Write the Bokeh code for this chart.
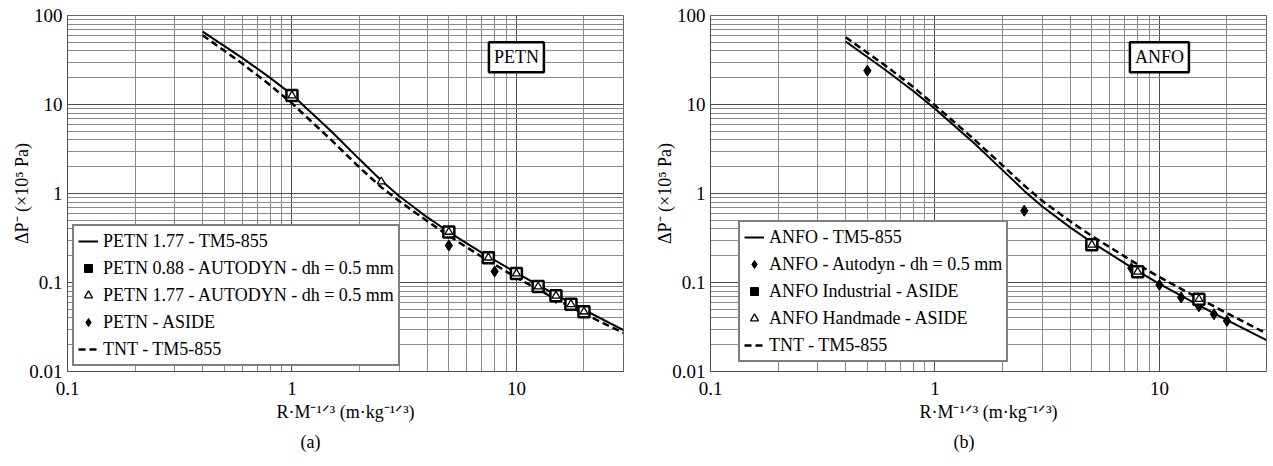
from bokeh.plotting import figure
from bokeh.models import (FixedTicker, CustomJSTickFormatter, Legend,
                          LegendItem, Label, Title, Range1d)
from bokeh.layouts import row
from bokeh.embed import file_html
from bokeh.resources import INLINE

FONT = "Liberation Serif"

# ---------------- data : panel (a) PETN ----------------
petn_tm5_x = [0.4, 0.6, 0.8, 1, 1.5, 2, 2.5, 3, 4, 5, 7, 10, 15, 20, 30]
petn_tm5_y = [66, 33.4, 19.9, 12.9, 4.97, 2.42, 1.40, 0.938, 0.542, 0.369, 0.217, 0.128, 0.0728, 0.0494, 0.0292]
tnt_a_x = [0.4, 0.6, 0.8, 1, 1.5, 2, 2.5, 3, 4, 5, 7, 10, 15, 20, 30]
tnt_a_y = [60, 28.9, 16.5, 10.3, 3.97, 1.96, 1.175, 0.824, 0.491, 0.334, 0.195, 0.1135, 0.0649, 0.0446, 0.0272]
petn088_x = [1, 5, 7.5, 10, 12.5, 15, 17.5, 20]
petn088_y = [12.6, 0.37, 0.19, 0.126, 0.090, 0.071, 0.057, 0.047]
petn177_x = [1, 2.5, 5, 7.5, 10, 12.5, 15, 17.5, 20]
petn177_y = [12.6, 1.36, 0.37, 0.19, 0.126, 0.090, 0.071, 0.057, 0.047]
petn_aside_x = [5, 8, 15]
petn_aside_y = [0.26, 0.133, 0.067]

# ---------------- data : panel (b) ANFO ----------------
anfo_tm5_x = [0.4, 0.6, 0.8, 1, 1.5, 2, 2.5, 3, 4, 5, 7.5, 10, 15, 20, 30]
anfo_tm5_y = [51, 24.6, 14.2, 8.95, 3.64, 1.83, 1.07, 0.718, 0.416, 0.283, 0.148, 0.0966, 0.0552, 0.0378, 0.0225]
tnt_b_x = [0.4, 0.6, 0.8, 1, 1.5, 2, 2.5, 3, 4, 5, 7.5, 10, 15, 20, 30]
tnt_b_y = [57, 27.5, 15.7, 9.8, 4.02, 2.07, 1.23, 0.83, 0.488, 0.333, 0.176, 0.115, 0.066, 0.0452, 0.0267]
anfo_autodyn_x = [0.5, 2.5, 7.5, 10, 12.5, 15, 17.5, 20]
anfo_autodyn_y = [24, 0.64, 0.145, 0.094, 0.068, 0.054, 0.044, 0.037]
anfo_ind_x = [5, 8, 15]
anfo_ind_y = [0.265, 0.132, 0.065]
anfo_hand_x = [5, 8, 15]
anfo_hand_y = [0.265, 0.132, 0.065]

major_x = [0.1, 1, 10]
minor_x = [m * 10.0 ** e for e in (-1, 0, 1) for m in range(2, 10) if m * 10.0 ** e <= 30]
major_y = [0.01, 0.1, 1, 10, 100]
minor_y = [m * 10.0 ** e for e in (-2, -1, 0, 1) for m in range(2, 10)]

y_title = "ΔP⁻ (×10⁵ Pa)"
x_title = "R·M⁻¹ᐟ³ (m·kg⁻¹ᐟ³)"


def make_fig(border_left, border_right, caption, cap_offset):
    p = figure(x_axis_type="log", y_axis_type="log",
               x_range=Range1d(0.1, 30), y_range=Range1d(0.01, 100),
               frame_width=556, frame_height=356,
               min_border_left=border_left, min_border_right=border_right,
               min_border_top=15, min_border_bottom=85,
               output_backend="svg", toolbar_location=None)
    p.background_fill_color = "white"
    p.border_fill_color = "white"
    p.outline_line_color = "#666666"
    for g, maj, mnr in ((p.xgrid[0], major_x, minor_x), (p.ygrid[0], major_y, minor_y)):
        g.ticker = FixedTicker(ticks=maj, minor_ticks=mnr)
        g.grid_line_color = "#4d4d4d"
        g.grid_line_width = 1
        g.minor_grid_line_color = "#8a8a8a"
        g.minor_grid_line_width = 1
    p.xaxis[0].ticker = FixedTicker(ticks=major_x)
    p.yaxis[0].ticker = FixedTicker(ticks=major_y)
    for ax in (p.xaxis[0], p.yaxis[0]):
        ax.major_tick_in = 0
        ax.major_tick_out = 0
        ax.minor_tick_in = 0
        ax.minor_tick_out = 0
        ax.axis_line_color = "#4d4d4d"
        ax.formatter = CustomJSTickFormatter(code="return tick.toString();")
        ax.major_label_text_font = FONT
        ax.major_label_text_font_size = "19px"
        ax.major_label_text_color = "black"
        ax.axis_label_text_font = FONT
        ax.axis_label_text_font_size = "18px"
        ax.axis_label_text_font_style = "normal"
        ax.axis_label_text_color = "black"
    p.xaxis[0].axis_label = x_title
    p.yaxis[0].axis_label = y_title
    p.xaxis[0].major_label_standoff = 10
    p.xaxis[0].axis_label_standoff = 4
    p.yaxis[0].major_label_standoff = 5
    p.yaxis[0].axis_label_standoff = -6
    p.add_layout(Title(text=caption, align="left", offset=cap_offset, text_font=FONT,
                       text_font_size="18px", text_font_style="normal",
                       text_color="black", standoff=10), "below")
    return p


def add_legend(p, entries, loc):
    items = [LegendItem(label=lab, renderers=[r]) for lab, r in entries]
    lg = Legend(items=items, location=loc, border_line_color="black", border_line_width=2.5,
                background_fill_color="white", background_fill_alpha=1.0,
                label_text_font=FONT, label_text_font_size="18px", label_text_color="black",
                glyph_width=20, glyph_height=22, label_height=22, spacing=5, padding=4,
                label_standoff=5, margin=0)
    p.add_layout(lg)


solid_kw = dict(line_color="black", line_width=2)
dash_kw = dict(line_color="black", line_width=2.5, line_dash="7 4")

# ---------------- panel (a) ----------------
pa = make_fig(67, 7, "(a)", 233)
r_petn = pa.line(petn_tm5_x, petn_tm5_y, **solid_kw)
r_tnt_a = pa.line(tnt_a_x, tnt_a_y, **dash_kw)
r_aside = pa.scatter(petn_aside_x, petn_aside_y, marker="diamond", size=11,
                     fill_color="black", line_color="black")
# solid square (legend symbol) hidden under the open square drawn on top
r_088_leg = pa.scatter(petn088_x, petn088_y, marker="square", size=7,
                       fill_color="black", line_color="black")
pa.scatter(petn088_x, petn088_y, marker="square", size=11, fill_color="white",
           line_color="black", line_width=2.5)
r_177 = pa.scatter(petn177_x, petn177_y, marker="triangle", size=8, fill_color="white",
                   line_color="black", line_width=1.3)
pa.add_layout(Label(x=10, y=34, text="PETN", text_align="center", text_baseline="middle",
                    text_font=FONT, text_font_size="18px", text_color="black",
                    border_line_color="black", border_line_width=2.5,
                    background_fill_color="white", padding=5))
add_legend(pa, [
    ("PETN 1.77 - TM5-855", r_petn),
    ("PETN 0.88 - AUTODYN - dh = 0.5 mm", r_088_leg),
    ("PETN 1.77 - AUTODYN - dh = 0.5 mm", r_177),
    ("PETN - ASIDE", r_aside),
    ("TNT - TM5-855", r_tnt_a),
], (5, 5))

# ---------------- panel (b) ----------------
pb = make_fig(80, 6, "(b)", 243)
r_anfo = pb.line(anfo_tm5_x, anfo_tm5_y, **solid_kw)
r_tnt_b = pb.line(tnt_b_x, tnt_b_y, **dash_kw)
r_auto = pb.scatter(anfo_autodyn_x, anfo_autodyn_y, marker="diamond", size=11,
                    fill_color="black", line_color="black")
r_ind_leg = pb.scatter(anfo_ind_x, anfo_ind_y, marker="square", size=7,
                       fill_color="black", line_color="black")
pb.scatter(anfo_ind_x, anfo_ind_y, marker="square", size=11, fill_color="white",
           line_color="black", line_width=2.5)
r_hand = pb.scatter(anfo_hand_x, anfo_hand_y, marker="triangle", size=8, fill_color="white",
                    line_color="black", line_width=1.3)
pb.add_layout(Label(x=10, y=34, text="ANFO", text_align="center", text_baseline="middle",
                    text_font=FONT, text_font_size="18px", text_color="black",
                    border_line_color="black", border_line_width=2.5,
                    background_fill_color="white", padding=5))
add_legend(pb, [
    ("ANFO - TM5-855", r_anfo),
    ("ANFO - Autodyn - dh = 0.5 mm", r_auto),
    ("ANFO Industrial - ASIDE", r_ind_leg),
    ("ANFO Handmade - ASIDE", r_hand),
    ("TNT - TM5-855", r_tnt_b),
], (28, 9))

layout = row(pa, pb)
open("out.html", "w").write(file_html(layout, INLINE))
